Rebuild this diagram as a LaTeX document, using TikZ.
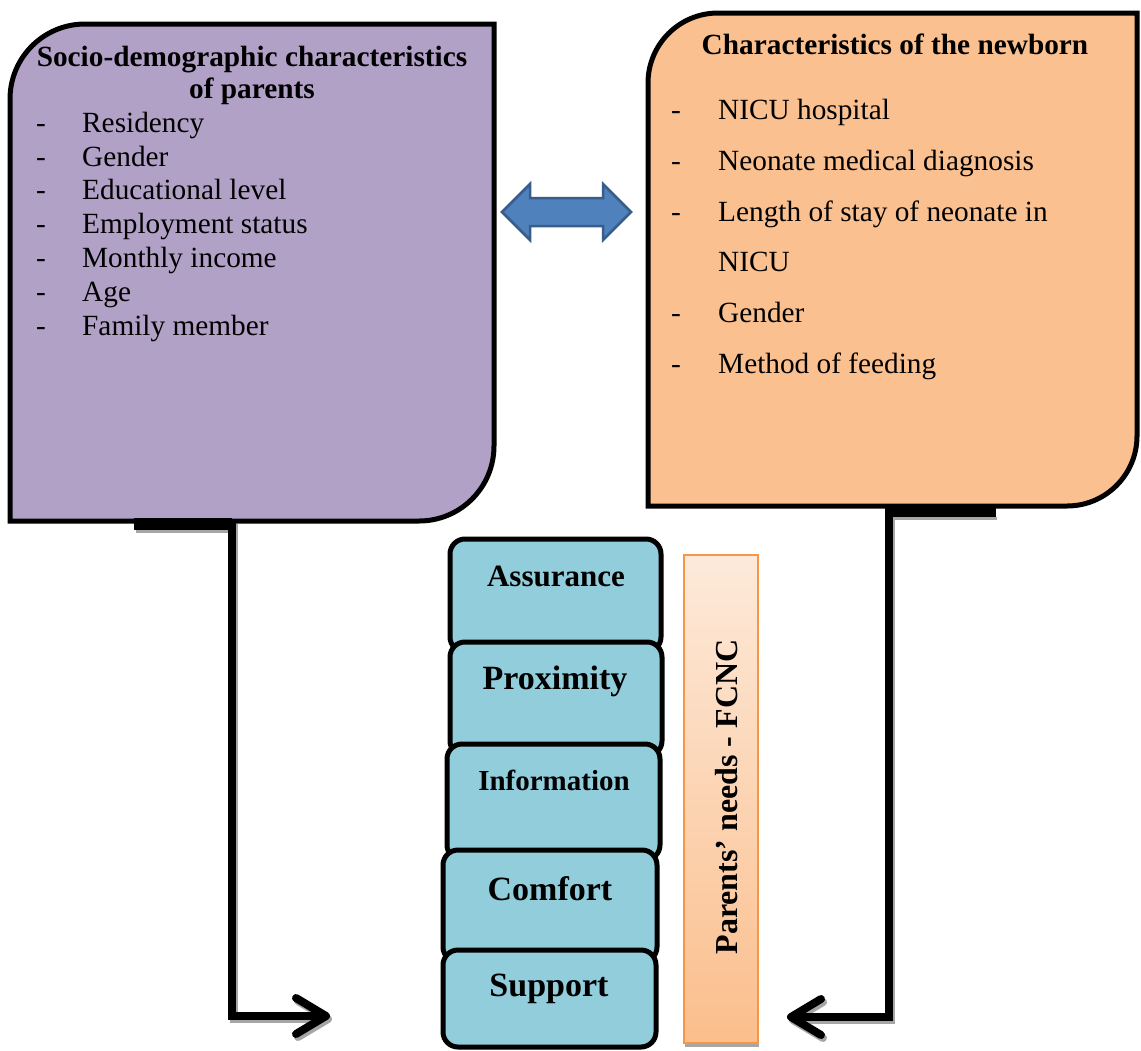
\documentclass[tikz,border=0pt]{standalone}
\usepackage{fontspec}
\setmainfont{Liberation Serif}
\usetikzlibrary{arrows.meta}
\definecolor{lilac}{HTML}{B2A1C7}
\definecolor{peach}{HTML}{FAC090}
\definecolor{aqua}{HTML}{92CDDC}
\definecolor{arrowblue}{HTML}{4F81BD}
\definecolor{arrowedge}{HTML}{385D8A}
\definecolor{barorange}{HTML}{F79646}
\definecolor{bartop}{HTML}{FDEADA}
\definecolor{barbot}{HTML}{FBBE8C}
\tikzset{
 bigbox/.style={draw=black, line width=5pt},
 itemtxt/.style={anchor=base west, inner sep=0pt, font=\fontsize{29.3}{34}\selectfont},
 titletxt/.style={anchor=base, inner sep=0pt, font=\bfseries\fontsize{29.3}{34}\selectfont},
 needbox/.style={draw=black, line width=5pt, fill=aqua, rounded corners=15pt},
 needtxt/.style={inner sep=0pt, font=\bfseries},
 conn/.style={draw=black, line width=8pt, -{Straight Barb[length=30pt,width=36pt,round]}},
 connshadow/.style={conn, draw=black!35, transform canvas={xshift=2pt,yshift=-3pt}},
}
\begin{document}
\begin{tikzpicture}[x=1pt,y=-1pt]
\useasboundingbox (0,0) rectangle (1141,1050);

% left box
\draw[bigbox, fill=lilac] (10,521) -- (10,99) arc[start angle=180, end angle=90, radius=75pt]
  -- (494,24) -- (494,446) arc[start angle=0, end angle=-90, radius=75pt] -- cycle;
\node[titletxt] (lt1) at (252,66) {Socio-demographic characteristics};
\node[titletxt] (lt2) at (252,98) {of parents};
\foreach \y/\t [count=\i] in {132/Residency,166/Gender,199/Educational level,233/Employment status,267/Monthly income,301/Age,335/Family member}{
  \node[itemtxt] (ld\i) at (36,\y) {-};
  \node[itemtxt] (li\i) at (82,\y) {\t};
}

% right box
\draw[bigbox, fill=peach] (648,506) -- (648,83) arc[start angle=180, end angle=90, radius=70pt]
  -- (1137,13) -- (1137,436) arc[start angle=0, end angle=-90, radius=70pt] -- cycle;
\node[titletxt] (rt) at (895,54) {Characteristics of the newborn};
\foreach \y/\t [count=\i] in {119/NICU hospital,170/Neonate medical diagnosis,221/Length of stay of neonate in,322/Gender,373/Method of feeding}{
  \node[itemtxt] (rd\i) at (671,\y) {-};
  \node[itemtxt] (ri\i) at (718,\y) {\t};
}
\node[itemtxt] (ri3b) at (718,271) {NICU};

% double arrow
\draw[fill=arrowblue, draw=arrowedge, line width=2.5pt, line join=miter]
  (502,212) -- (530,184) -- (530,198) -- (603,198) -- (603,184) -- (631,212)
  -- (603,240) -- (603,226) -- (530,226) -- (530,240) -- cycle;

% connectors
\coordinate (Lstart) at (232,521);
\coordinate (Lend) at (330,1016);
\coordinate (Rstart) at (889,506);
\coordinate (Rend) at (787,1017);
\draw[connshadow] (Lstart) |- (Lend);
\draw[connshadow] (Rstart) |- (Rend);
\fill[black!35] (136,530) rectangle (232,533);
\fill[black!35] (889,517) rectangle (997,520);
\fill[black] (134,518) rectangle (232,530);
\fill[black] (887,506) rectangle (996,517);
\draw[conn] (Lstart) |- (Lend);
\draw[conn] (Rstart) |- (Rend);

% need boxes
\draw[needbox] (450,539) rectangle (661,652);
\node[needtxt, font=\bfseries\fontsize{31}{36}\selectfont] (n1) at (556,576) {Assurance};
\draw[needbox] (450,642) rectangle (662,756);
\node[needtxt, font=\bfseries\fontsize{34}{38}\selectfont] (n2) at (555,681) {Proximity};
\draw[needbox] (447,744) rectangle (660,860);
\node[needtxt, font=\bfseries\fontsize{29}{34}\selectfont] (n3) at (554,780) {Information};
\draw[needbox] (443,850) rectangle (657,962);
\node[needtxt, font=\bfseries\fontsize{34}{38}\selectfont] (n4) at (550,889) {Comfort};
\draw[needbox] (443,950) rectangle (656,1047);
\node[needtxt, font=\bfseries\fontsize{34}{38}\selectfont] (n5) at (549,989) {Support};

% FCNC bar
\fill[black!35] (685,1043) rectangle (759,1047);
\draw[draw=barorange, line width=1.5pt, top color=bartop, bottom color=barbot] (684,555) rectangle (758,1043);
\node[rotate=90, inner sep=0pt, font=\bfseries\fontsize{32}{36}\selectfont] (fcnc) at (727,797) {Parents’ needs - FCNC};
\end{tikzpicture}
\end{document}
